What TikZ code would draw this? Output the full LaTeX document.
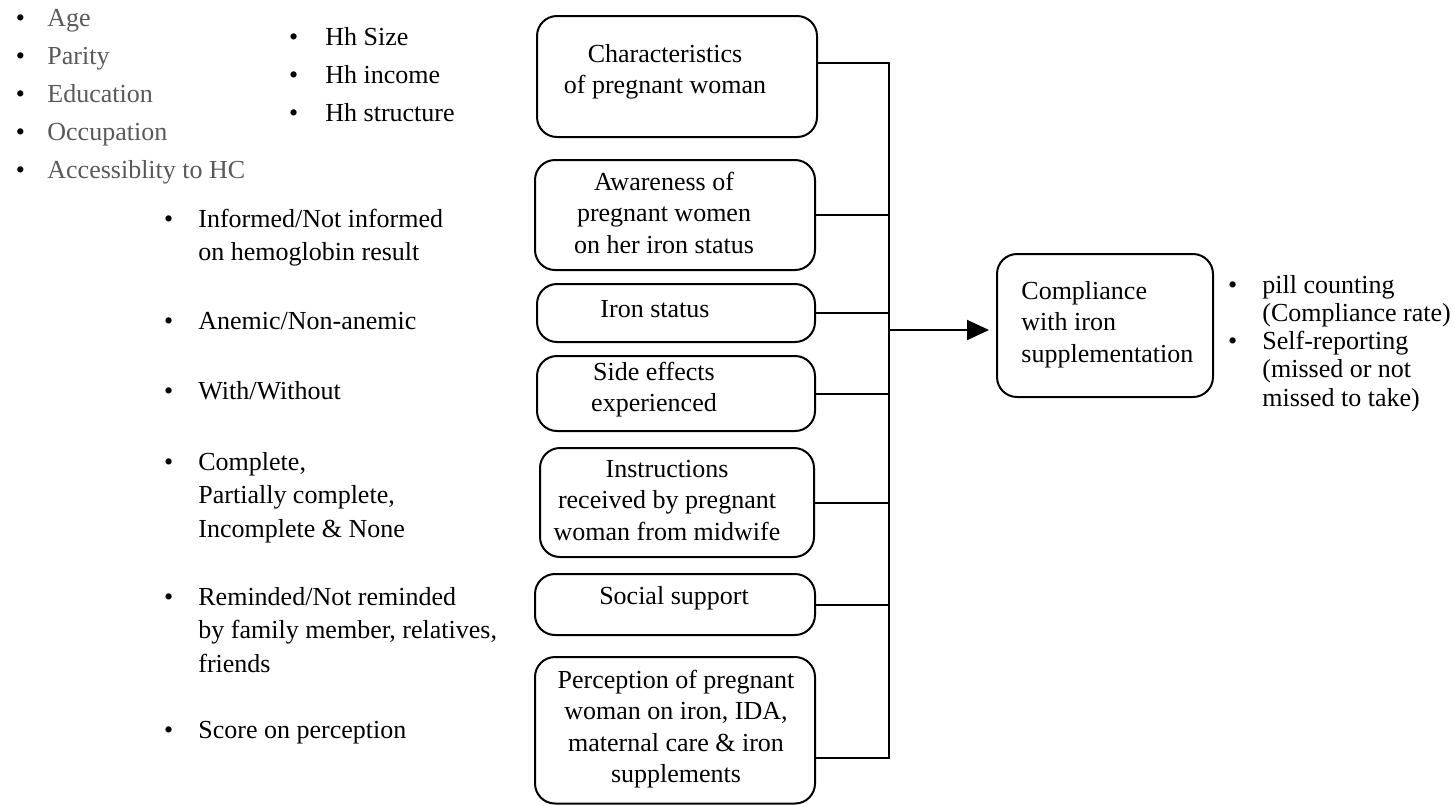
\documentclass[tikz,border=0pt]{standalone}
\usepackage{fontspec}
\setmainfont{Liberation Serif}
\usetikzlibrary{arrows.meta}
\definecolor{graytxt}{RGB}{89,89,89}
\newcommand\bu{\leavevmode{\color{black}\textbullet}}
\newcommand\blst[3]{\fontsize{13}{#1}\selectfont\begin{tabular}[t]{@{}p{#2}@{}l@{}}#3\end{tabular}}
\newcommand\ctr[1]{\fontsize{13}{15.75}\selectfont\begin{tabular}[t]{@{}c@{}}#1\end{tabular}}
\newcommand\lft[1]{\fontsize{13}{15.75}\selectfont\begin{tabular}[t]{@{}l@{}}#1\end{tabular}}
\begin{document}
\begin{tikzpicture}[x=0.5pt,y=-0.5pt,
  box/.style={draw, line width=1pt, rounded corners=10pt, inner sep=0pt},
  txt/.style={inner sep=0pt, anchor=base},
  lst/.style={inner sep=0pt, anchor=base west},
  wire/.style={line width=1pt},
  arr/.style={line width=1pt, -{Triangle[length=11pt,width=10pt]}, shorten >=3.5pt}]
\useasboundingbox (0,0) rectangle (1455,805);

% left lists
\node[lst, text=graytxt] (la) at (15.6,26) {\blst{19pt}{15.7pt}{\bu & Age\\ \bu & Parity\\ \bu & Education\\ \bu & Occupation\\ \bu & Accessiblity to HC}};
\node[lst] (lh) at (288.6,45) {\blst{19.2pt}{18.2pt}{\bu & Hh Size\\ \bu & Hh income\\ \bu & Hh structure}};

\node[lst] (l1) at (163.6,227) {\blst{16.85pt}{17.2pt}{\bu & Informed/Not informed\\ & on hemoglobin result}};
\node[lst] (l2) at (163.6,329) {\blst{16.85pt}{17.2pt}{\bu & Anemic/Non-anemic}};
\node[lst] (l3) at (163.6,399) {\blst{16.85pt}{17.2pt}{\bu & With/Without}};
\node[lst] (l4) at (163.6,470) {\blst{16.85pt}{17.2pt}{\bu & Complete,\\ & Partially complete,\\ & Incomplete \& None}};
\node[lst] (l5) at (163.6,605) {\blst{16.85pt}{17.2pt}{\bu & Reminded/Not reminded\\ & by family member,\ relatives,\\ & friends}};
\node[lst] (l6) at (163.6,738) {\blst{16.85pt}{17.2pt}{\bu & Score on perception}};

% factor boxes
\node[box, minimum width=140pt, minimum height=60.5pt] (b1) at (677,76.5) {};
\node[box, minimum width=140pt, minimum height=55pt] (b2) at (675,215) {};
\node[box, minimum width=139pt, minimum height=29pt] (b3) at (676,313) {};
\node[box, minimum width=139pt, minimum height=37.5pt] (b4) at (676,393.5) {};
\node[box, minimum width=137pt, minimum height=54.5pt] (b5) at (677,502.5) {};
\node[box, minimum width=140pt, minimum height=30.5pt] (b6) at (675,604.5) {};
\node[box, minimum width=140pt, minimum height=73.25pt] (b7) at (675,730.25) {};

\node[txt] (t1) at (665,62) {\ctr{Characteristics\\of\ pregnant woman}};
\node[txt] (t2) at (664,190) {\ctr{Awareness of\\pregnant women\\on her iron status}};
\node[txt] (t3) at (655,317) {\ctr{Iron status}};
\node[txt] (t4) at (654,380) {\ctr{Side effects\\experienced}};
\node[txt] (t5) at (667,477) {\ctr{Instructions\\received by pregnant\\woman from midwife}};
\node[txt] (t6) at (674,604) {\ctr{Social support}};
\node[txt] (t7) at (676,688) {\ctr{Perception of\ pregnant\\woman on iron, IDA,\\maternal care \& iron\\supplements}};

% outcome
\node[box, minimum width=108pt, minimum height=71.5pt] (comp) at (1105,325.5) {};
\node[lst] (tc) at (1021,299) {\lft{Compliance\\with iron\\supplementation}};
\node[lst] (lr) at (1227.6,293) {\blst{14.15pt}{17.2pt}{\bu & pill counting\\ & (Compliance rate)\\ \bu & Self-reporting\\ & (missed or not\\ & missed to take)}};

% connectors
\coordinate (sTop) at (889,63);
\coordinate (sBot) at (889,758);
\coordinate (aj) at (889,330);
\draw[wire] ([yshift=0.5pt]sTop) -- ([yshift=-0.5pt]sBot);
\draw[wire] (b1.east |- sTop) -- (sTop);
\draw[wire] (b2.east) -- (b2.east -| sTop);
\draw[wire] (b3.east) -- (b3.east -| sTop);
\draw[wire] (b4.east) -- (b4.east -| sTop);
\draw[wire] (b5.east) -- (b5.east -| sTop);
\draw[wire] (b6.east) -- (b6.east -| sTop);
\draw[wire] (b7.east |- sBot) -- (sBot);
\draw[arr] (aj) -- (aj -| comp.west);
\end{tikzpicture}
\end{document}
